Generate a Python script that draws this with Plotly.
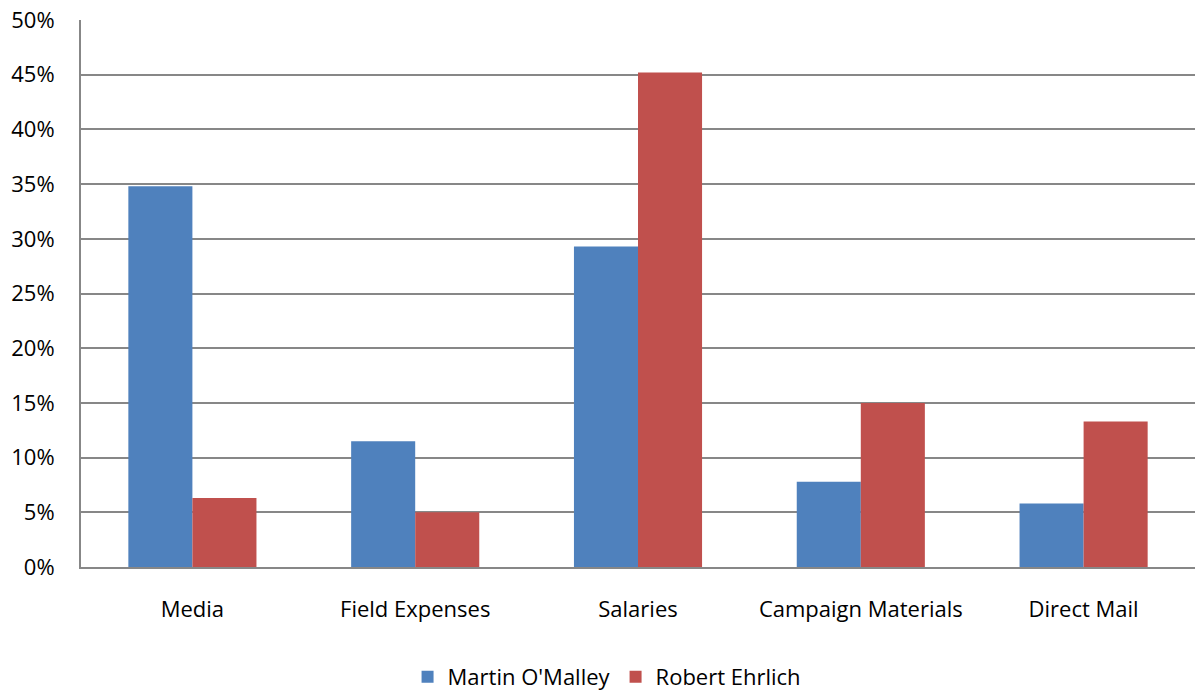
import plotly.graph_objects as go

categories = ["Media", "Field Expenses", "Salaries", "Campaign Materials", "Direct Mail"]
omalley = [34.8, 11.5, 29.3, 7.8, 5.8]
ehrlich = [6.3, 5.0, 45.2, 15.0, 13.3]
y_ticks = [0, 5, 10, 15, 20, 25, 30, 35, 40, 45, 50]
y_tick_labels = [f"{v}%" for v in y_ticks]

font_family = "Open Sans, Liberation Sans, sans-serif"

fig = go.Figure()
fig.add_trace(go.Bar(name="Martin O'Malley", x=categories, y=omalley,
                     marker=dict(color="#4F81BD", line=dict(width=0))))
fig.add_trace(go.Bar(name="Robert Ehrlich", x=categories, y=ehrlich,
                     marker=dict(color="#C0504D", line=dict(width=0))))

fig.update_layout(
    width=1195, height=690,
    margin=dict(l=81, r=0, t=20, b=123, autoexpand=False),
    paper_bgcolor="white", plot_bgcolor="white",
    barmode="group", bargap=0.425, bargroupgap=0,
    font=dict(family=font_family, size=22, color="#000000"),
    legend=dict(orientation="h", xref="container", yref="container",
                x=0.508, xanchor="center", y=0.019, yanchor="middle",
                font=dict(size=22), itemwidth=30, traceorder="normal"),
    xaxis=dict(showgrid=False, showline=True, linecolor="#878787", linewidth=2,
               ticks="", ticklabelstandoff=22, tickfont=dict(size=22)),
    yaxis=dict(range=[0, 50], tickvals=y_ticks, ticktext=y_tick_labels,
               showgrid=True, gridcolor="#878787", gridwidth=2,
               showline=True, linecolor="#878787", linewidth=2,
               zeroline=False, ticks="", ticklabelstandoff=20, tickfont=dict(size=22)),
)

fig.write_html("out.html")
